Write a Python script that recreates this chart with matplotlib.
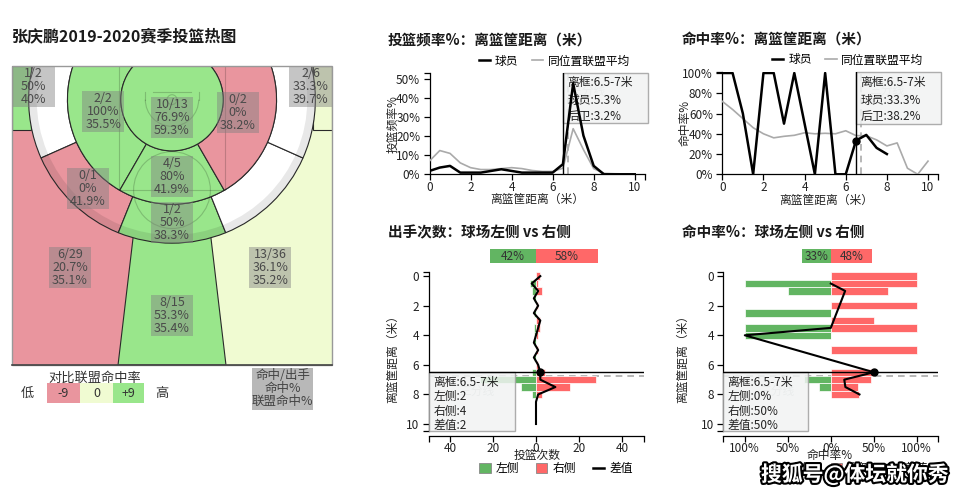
import numpy as np
import matplotlib
matplotlib.use('Agg')
import matplotlib.pyplot as plt
from matplotlib.patches import Wedge, Rectangle, Polygon, Circle, Arc, Patch
from matplotlib.lines import Line2D
import matplotlib.patheffects as pe

plt.rcParams['font.family'] = ['Noto Sans CJK SC', 'DejaVu Sans']
plt.rcParams['axes.unicode_minus'] = False

# ---- zone data (heat map): made, attempts, league FG% of same position ----
zone_made = [10, 2, 4, 0, 0, 0, 1, 0, 0, 1, 2, 6, 8, 13]
zone_att = [13, 2, 5, 2, 0, 1, 2, 0, 0, 2, 6, 29, 15, 36]
zone_league = [59.3, 35.5, 41.9, 38.2, 0, 41.9, 38.3, 0, 0, 40.0, 39.7, 35.1, 35.4, 35.2]

# ---- shots by distance to the rim (0.5 m bins) ----
dist = [0, 0.5, 1, 1.5, 2, 2.5, 3, 3.5, 4, 4.5, 5, 5.5, 6, 6.5, 7, 7.5, 8, 8.5, 9, 9.5, 10]
left_att = [0, 3, 2, 1, 0, 1, 0, 1, 1, 1, 0, 1, 0, 2, 26, 7, 2, 0, 0, 0, 0]
right_att = [2, 1, 3, 0, 1, 0, 2, 2, 1, 0, 1, 0, 1, 4, 28, 16, 3, 0, 0, 0, 0]
left_made = [0, 3, 1, 0, 0, 1, 0, 1, 1, 0, 0, 0, 0, 0, 8, 1, 0, 0, 0, 0, 0]
right_made = [2, 1, 2, 0, 1, 0, 1, 2, 0, 0, 1, 0, 0, 2, 13, 5, 1, 0, 0, 0, 0]
league_freq = [7, 12.5, 11, 6, 3.5, 2.5, 2.5, 3, 3.5, 3, 2, 1.5, 1.5, 3.2, 24, 13, 3, 0.5, 0.3, 0.2, 0.1]
league_fg = [72, 64, 55, 46, 40, 36, 37.5, 38.5, 41, 40, 40.5, 40, 43, 38.2, 38, 34, 28, 31, 6, 0, 13]
hover = 13  # 6.5-7m bin shown in the tooltips

GREEN, RED, NEUTRAL = '#99e68b', '#e9959e', '#f0fbd2'
BAR_G, BAR_R = '#62b562', '#ff6868'

d = np.array(dist)
la, ra = np.array(left_att), np.array(right_att)
lm, rm = np.array(left_made), np.array(right_made)
tot = la + ra
player_freq = tot / tot.sum() * 100
with np.errstate(invalid='ignore', divide='ignore'):
    player_fg = np.where(tot > 0, (lm + rm) / tot * 100, np.nan)
    left_pct = np.where(la > 0, lm / la * 100, 0)
    right_pct = np.where(ra > 0, rm / ra * 100, 0)
both = (la > 0) & (ra > 0)
diff_att = ra - la
diff_fg = right_pct - left_pct

fig = plt.figure(figsize=(9.6, 4.96), dpi=100)


def px_axes(l, t, r, b):
    return fig.add_axes([l / 960, 1 - b / 496, (r - l) / 960, (b - t) / 496])


def fmt(v):
    return f'{round(v, 1):g}%'


# ================= court =================
axc = px_axes(12, 66, 332, 365)
axc.set_xlim(-7.5, 7.5)
axc.set_ylim(14, 0)
axc.axis('off')

BY, R1, R2, R3 = 1.575, 2.4, 4.9, 6.72
CX, CY = 6.6, 2.99
w2, w3 = R2 - R1, R3 - R2
shapes = [
    Circle((0, BY), R1),
    Wedge((0, BY), R2, 120, 270, width=w2),
    Wedge((0, BY), R2, 60, 120, width=w2),
    Wedge((0, BY), R2, -90, 60, width=w2),
    Wedge((0, BY), R3, 156, 270, width=w3),
    Wedge((0, BY), R3, 112, 156, width=w3),
    Wedge((0, BY), R3, 68, 112, width=w3),
    Wedge((0, BY), R3, 24, 68, width=w3),
    Wedge((0, BY), R3, -90, 24, width=w3),
    Rectangle((-7.5, 0), 7.5 - CX, CY),
    Rectangle((CX, 0), 7.5 - CX, CY),
    Rectangle((-7.5, 0), 7.5, 14),
    Polygon([(-1.06, BY), (1.06, BY), (2.53, 14), (-2.53, 14)]),
    Rectangle((0, 0), 7.5, 14),
]
zorders = [6, 5, 5, 5, 4, 4, 4, 4, 4, 3, 3, 1, 2, 1]
label_xy = [(0, 2.39), (-3.23, 2.11), (0, 5.16), (3.09, 2.16), None, (-3.94, 5.72),
            (0, 7.31), None, None, (-6.5, 0.96), (6.5, 0.96), (-4.78, 9.42),
            (0, 11.67), (4.6, 9.42)]

for i, shp in enumerate(shapes):
    m, a, lg = zone_made[i], zone_att[i], zone_league[i]
    if a == 0:
        col = 'white'
    else:
        dd = m / a * 100 - lg
        col = GREEN if dd >= 9 else (RED if dd <= -9 else NEUTRAL)
    shp.set_facecolor(col)
    if i in (11, 13):
        shp.set_linewidth(0)
    else:
        shp.set_edgecolor('#2a2a2a')
        shp.set_linewidth(0.8)
    shp.set_zorder(zorders[i])
    axc.add_patch(shp)
    if a > 0 and label_xy[i] is not None:
        x, y = label_xy[i]
        axc.add_patch(Rectangle((x - 1.0, y - 0.96), 2.0, 1.92, facecolor='#808080',
                                alpha=0.45, lw=0, zorder=8))
        for k, s in enumerate([f'{m}/{a}', fmt(m / a * 100), fmt(lg)]):
            axc.text(x, y + (k - 1) * 0.61, s, ha='center', va='center', fontsize=9,
                     color='#4a4a4a', zorder=9)

# shadow along the 3pt line
axc.add_patch(Wedge((0, BY), R3, 0, 360, width=0.38, facecolor='black', alpha=0.09,
                    lw=0, zorder=4.5))
# faint court markings
lc = dict(color='black', alpha=0.18, lw=0.8, zorder=6.5)
axc.add_patch(Rectangle((-2.48, 0), 4.96, 5.81, fill=False, **lc))
axc.add_patch(Circle((0, 5.81), 1.8, fill=False, **lc))
axc.add_patch(Arc((0, BY), 2.5, 2.5, theta1=0, theta2=180, **lc))
axc.plot([-1.25, -1.25], [1.2, BY], **lc)
axc.plot([1.25, 1.25], [1.2, BY], **lc)
axc.plot([-0.9, 0.9], [1.2, 1.2], **lc)
axc.add_patch(Circle((0, BY), 0.23, fill=False, **lc))
# court border
axc.add_patch(Rectangle((-7.5, 0), 15, 14, fill=False, edgecolor='#999999', lw=1,
                        zorder=10, clip_on=False))
axc.plot([-7.5, 7.5], [14, 14], color='#444444', lw=1.2, zorder=10, clip_on=False)

# court legend
axc.text(-3.61, 14.63, '对比联盟命中率', ha='center', va='center', fontsize=9.5, color='#333')
axc.text(-6.8, 15.33, '低', ha='center', va='center', fontsize=9.5, color='#333')
axc.text(-0.47, 15.33, '高', ha='center', va='center', fontsize=9.5, color='#333')
for x0, wd, c, s in [(-5.86, 1.55, RED, '-9'), (-4.31, 1.54, NEUTRAL, '0'), (-2.77, 1.46, GREEN, '+9')]:
    axc.add_patch(Rectangle((x0, 14.86), wd, 0.94, facecolor=c, lw=0, clip_on=False))
    axc.text(x0 + wd / 2, 15.33, s, ha='center', va='center', fontsize=9, color='#333')
axc.add_patch(Rectangle((3.75, 14.16), 2.86, 1.97, facecolor='#b8b8b8', lw=0, clip_on=False))
for k, s in enumerate(['命中/出手', '命中%', '联盟命中%']):
    axc.text(5.18, 14.49 + k * 0.61, s, ha='center', va='center', fontsize=9, color='#444')

fig.text(12 / 960, 1 - 36 / 496, '张庆鹏2019-2020赛季投篮热图', fontsize=11.5,
         fontweight='bold', ha='left', va='center', color='#1a1a1a')


# ================= helpers for the four small charts =================
def style(ax, xend, yend):
    for s in ['top', 'right']:
        ax.spines[s].set_visible(False)
    for s in ['left', 'bottom']:
        ax.spines[s].set_linewidth(0.9)
    ax.tick_params(which='both', length=4.5, width=0.9, labelsize=8.5, labelcolor='#222')
    ax.tick_params(axis='x', which='both', pad=0.3)
    ax.tick_params(axis='y', which='both', pad=2.2)
    ax.set_xticks(xend, minor=True)
    ax.set_yticks(yend, minor=True)


def tooltip(ax, x0, y0, w, h, x_txt, y_txt, lines, lab_xy):
    ax.text(lab_xy[0], lab_xy[1], '三分线', fontsize=8.5, color='#c4c4c4', zorder=1.5,
            ha='center', va='center')
    ax.add_patch(Rectangle((x0, y0), w, h, facecolor='#f1f3f3', edgecolor='#a0a0a0',
                           lw=1, alpha=0.85, zorder=2.6, clip_on=False))
    for s, y in zip(lines, y_txt):
        ax.text(x_txt, y, s, fontsize=8.5, color='#222', ha='left', va='center',
                zorder=2.7, clip_on=False)


line_legend = ([Line2D([], [], color='black', lw=1.8), Line2D([], [], color='#aaaaaa', lw=1.2)],
               ['球员', '同位置联盟平均'])
leg_kw = dict(loc='center', ncol=2, frameon=False, fontsize=8.5, handlelength=1.0,
              handletextpad=0.4, columnspacing=1.1, borderpad=0, borderaxespad=0)

# ---- shot frequency vs distance ----
ax1 = px_axes(429.5, 73, 645, 174.3)
ax1.plot(d, league_freq, color='#aaaaaa', lw=1.2, zorder=3)
ax1.plot(d, player_freq, color='black', lw=1.8, zorder=4)
ax1.set_xlim(0, 10.5)
ax1.set_ylim(0, 53.3)
ax1.set_xticks([0, 2, 4, 6, 8, 10])
ax1.set_yticks(range(0, 51, 10))
ax1.yaxis.set_major_formatter(lambda v, p: f'{v:.0f}%')
style(ax1, [10.5], [53.3])
ax1.axvline(dist[hover], color='black', lw=1, zorder=3.5)
ax1.axvline(6.75, color='#aaaaaa', lw=1.2, ls=(0, (4, 3)), zorder=2)
tooltip(ax1, 6.5, 26.8, 4.15, 26.5, 6.72, [48.2, 39.1, 30.3],
        ['离框:6.5-7米', f'球员:{player_freq[hover]:.1f}%', f'后卫:{league_freq[hover]:.1f}%'],
        (7.7, 43.5))
ax1.legend(*line_legend, bbox_to_anchor=(0.58, 1.118), **leg_kw)
ax1.text(0.5, -0.245, '离篮筐距离（米）', transform=ax1.transAxes, ha='center', va='center',
         fontsize=8.5, color='#222')
ax1.text(-0.169, 0.5, '投篮频率%', transform=ax1.transAxes, rotation=90, ha='center',
         va='center', fontsize=8.5, color='#222')

# ---- FG% vs distance ----
ax2 = px_axes(722.3, 72, 938.3, 174.3)
ax2.plot(d, league_fg, color='#aaaaaa', lw=1.2, zorder=3)
ax2.plot(d, player_fg, color='black', lw=1.8, zorder=4)
ax2.plot(dist[hover], player_fg[hover], 'o', color='black', ms=5, zorder=5)
ax2.set_xlim(0, 10.5)
ax2.set_ylim(0, 101)
ax2.set_xticks([0, 2, 4, 6, 8, 10])
ax2.set_yticks(range(0, 101, 20))
ax2.yaxis.set_major_formatter(lambda v, p: f'{v:.0f}%')
style(ax2, [10.5], [101])
ax2.axvline(dist[hover], color='black', lw=1, zorder=3.5)
ax2.axvline(6.75, color='#aaaaaa', lw=1.2, ls=(0, (4, 3)), zorder=2)
tooltip(ax2, 6.5, 49.6, 4.15, 51.4, 6.72, [90.4, 73.1, 56.9],
        ['离框:6.5-7米', f'球员:{player_fg[hover]:.1f}%', f'后卫:{league_fg[hover]:.1f}%'],
        (8.0, 82.5))
ax2.legend(*line_legend, bbox_to_anchor=(0.58, 1.118), **leg_kw)
ax2.text(0.483, -0.25, '离篮筐距离（米）', transform=ax2.transAxes, ha='center', va='center',
         fontsize=8.5, color='#222')
ax2.text(-0.173, 0.5, '命中率%', transform=ax2.transAxes, rotation=90, ha='center',
         va='center', fontsize=8.5, color='#222')

bar_legend = ([Patch(facecolor=BAR_G, edgecolor='#888', lw=0.6),
               Patch(facecolor=BAR_R, edgecolor='#888', lw=0.6),
               Line2D([], [], color='black', lw=1.8)], ['左侧', '右侧', '差值'])
bleg_kw = dict(loc='center', ncol=3, frameon=False, fontsize=8.5, handlelength=0.95,
               handleheight=0.95, handletextpad=0.45, columnspacing=1.4, borderpad=0,
               borderaxespad=0)


def summary_bar(ax, lval, rval, scale):
    for v, c in [(-lval * scale, BAR_G), (rval * scale, BAR_R)]:
        b = ax.barh(-1.36, v, height=0.95, color=c, lw=0, zorder=2)
        b[0].set_clip_on(False)
    ax.text(-lval * scale / 2, -1.36, f'{lval:.0f}%', ha='center', va='center',
            fontsize=8.5, color='#333', clip_on=False)
    ax.text(rval * scale / 2, -1.36, f'{rval:.0f}%', ha='center', va='center',
            fontsize=8.5, color='#333', clip_on=False)


# ---- attempts left vs right ----
ax3 = px_axes(428.5, 271.7, 643.5, 431.4)
ax3.barh(d, -la, height=0.5, color=BAR_G, edgecolor='white', lw=0.5, zorder=2)
ax3.barh(d, ra, height=0.5, color=BAR_R, edgecolor='white', lw=0.5, zorder=2)
ax3.plot(diff_att, d, color='black', lw=1.5, zorder=4)
ax3.plot(diff_att[hover], dist[hover], 'o', color='black', ms=5, zorder=5)
ax3.set_xlim(-50, 50)
ax3.set_ylim(10.5, -0.3)
ax3.set_xticks([-40, -20, 0, 20, 40])
ax3.set_yticks(range(0, 11, 2))
ax3.xaxis.set_major_formatter(lambda v, p: f'{abs(v):.0f}')
style(ax3, [-50, 50], [-0.3, 10.5])
ax3.spines['bottom'].set_position(('outward', 3))
ax3.axhline(dist[hover], color='black', lw=1, zorder=3.5)
ax3.axhline(6.75, color='#aaaaaa', lw=1.2, ls=(0, (4, 3)), zorder=1.8)
tooltip(ax3, -50, 6.5, 40, 4.0, -47.8, [7.18, 8.15, 9.17, 10.07],
        ['离框:6.5-7米', f'左侧:{la[hover]}', f'右侧:{ra[hover]}', f'差值:{diff_att[hover]}'],
        (-27.5, 7.8))
summary_bar(ax3, la.sum() / tot.sum() * 100, ra.sum() / tot.sum() * 100, 0.5)
ax3.legend(*bar_legend, bbox_to_anchor=(0.593, -0.235), **bleg_kw)
ax3.text(0.503, -0.15, '投篮次数', transform=ax3.transAxes, ha='center', va='center',
         fontsize=8.5, color='#222')
ax3.text(-0.165, 0.472, '离篮筐距离（米）', transform=ax3.transAxes, rotation=90,
         ha='center', va='center', fontsize=8.5, color='#222')

# ---- FG% left vs right ----
ax4 = px_axes(723.3, 271.7, 938.3, 431.4)
ax4.barh(d, -left_pct, height=0.5, color=BAR_G, edgecolor='white', lw=0.5, zorder=2)
ax4.barh(d, right_pct, height=0.5, color=BAR_R, edgecolor='white', lw=0.5, zorder=2)
ax4.plot(diff_fg[both], d[both], color='black', lw=1.5, zorder=4)
ax4.plot(diff_fg[hover], dist[hover], 'o', color='black', ms=5, zorder=5)
ax4.set_xlim(-125, 125)
ax4.set_ylim(10.5, -0.3)
ax4.set_xticks([-100, -50, 0, 50, 100])
ax4.set_yticks(range(0, 11, 2))
ax4.xaxis.set_major_formatter(lambda v, p: f'{abs(v):.0f}%')
style(ax4, [-125, 125], [-0.3, 10.5])
ax4.spines['bottom'].set_position(('outward', 3))
ax4.axhline(dist[hover], color='black', lw=1, zorder=3.5)
ax4.axhline(6.75, color='#aaaaaa', lw=1.2, ls=(0, (4, 3)), zorder=1.8)
tooltip(ax4, -125, 6.5, 99, 4.0, -120, [7.18, 8.15, 9.17, 10.07],
        ['离框:6.5-7米', f'左侧:{left_pct[hover]:.0f}%', f'右侧:{right_pct[hover]:.0f}%',
         f'差值:{diff_fg[hover]:.0f}%'], (-63, 7.8))
summary_bar(ax4, lm.sum() / la.sum() * 100, rm.sum() / ra.sum() * 100, 1.0)
ax4.legend(*bar_legend, bbox_to_anchor=(0.594, -0.235), **bleg_kw)
ax4.text(0.495, -0.15, '命中率%', transform=ax4.transAxes, ha='center', va='center',
         fontsize=8.5, color='#222')
ax4.text(-0.187, 0.472, '离篮筐距离（米）', transform=ax4.transAxes, rotation=90,
         ha='center', va='center', fontsize=8.5, color='#222')

# panel titles
for x, y, s in [(388, 40, '投篮频率%：离篮筐距离（米）'), (682, 40, '命中率%：离篮筐距离（米）'),
                (388, 232, '出手次数：球场左侧 vs 右侧'), (682, 232, '命中率%：球场左侧 vs 右侧')]:
    fig.text(x / 960, 1 - y / 496, s, fontsize=10.5, fontweight='bold', ha='left',
             va='center', color='#1a1a1a')

# watermark
fig.text(855 / 960, 1 - 474 / 496, '搜狐号@体坛就你秀', fontsize=15, fontweight='bold',
         color='white', ha='center', va='center', zorder=20,
         path_effects=[pe.withStroke(linewidth=3, foreground='black')])

fig.savefig('out.png', dpi=100)
